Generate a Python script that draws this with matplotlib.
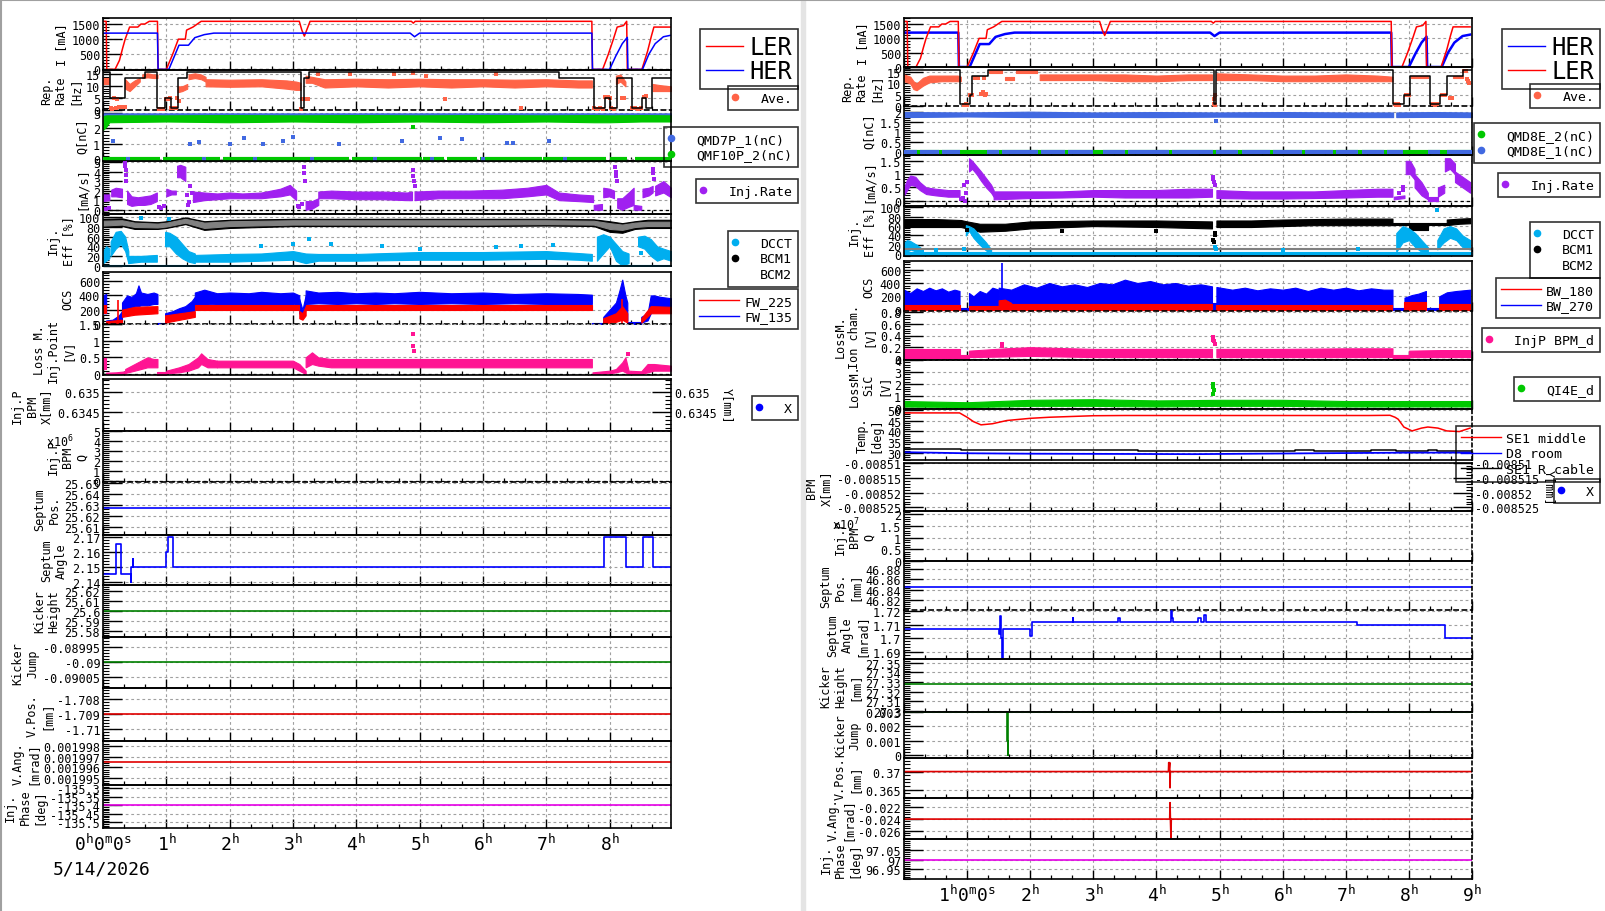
import matplotlib
matplotlib.use("Agg")
import matplotlib.pyplot as plt
from matplotlib.lines import Line2D
from matplotlib.patches import Rectangle
from matplotlib.ticker import AutoMinorLocator, MultipleLocator
from matplotlib.transforms import Bbox, TransformedBbox

plt.rcParams["font.family"] = ["DejaVu Sans Mono", "DejaVu Sans"]
plt.rcParams["mathtext.fontset"] = "custom"
for _k in ("rm", "it", "bf", "sf"):
    plt.rcParams["mathtext." + _k] = "DejaVu Sans Mono"

W, H = 1606, 912

RED, BLUE = "#ff0000", "#0000ff"
TOMATO = "#ff6347"
ROYAL = "#4169e1"
GREEN = "#00c800"
PURPLE = "#a020f0"
SKY = "#00aeef"
GRAY = "#808080"
PINK = "#ff1493"
DKGREEN = "#008000"
VRED = "#e00000"
MAG = "#e600e6"

# ---------------- data (hours since 0:00) ----------------
ler_t = [0.0, 0.05, 0.06, 0.19, 0.26, 0.31, 0.35, 0.42, 0.55, 0.6, 0.66, 0.73, 0.86, 0.87,
         1.0, 1.1, 1.19, 1.3, 1.32, 1.42, 1.55, 3.1, 3.14, 3.18, 3.27, 4.87, 4.9, 4.93,
         7.72, 7.73, 7.89, 7.98, 8.06, 8.12, 8.22, 8.27, 8.28, 8.51, 8.6, 8.66, 8.7, 8.97]
ler_v = [1590, 1590, 0, 0, 300, 700, 1000, 1400, 1400, 1500, 1500, 1590, 1590, 0,
         0, 500, 1000, 1000, 1300, 1400, 1590, 1590, 1300, 1100, 1590, 1590, 1530, 1590,
         1590, 0, 0, 500, 1000, 1400, 1450, 1590, 0, 0, 600, 1100, 1400, 1400]
her_t = [0.0, 0.86, 0.87, 1.04, 1.12, 1.2, 1.35, 1.45, 1.6, 1.75, 4.85, 4.92, 5.0, 7.72, 7.73,
         8.0, 8.1, 8.2, 8.28, 8.29, 8.52, 8.62, 8.72, 8.85, 8.97]
her_v = [1200, 1200, 0, 0, 400, 800, 800, 1050, 1150, 1200, 1200, 1080, 1200, 1200, 0,
         0, 450, 850, 1060, 0, 0, 500, 850, 1080, 1130]

# rep. rate, left
lrep_t = [0.0, 0.11, 0.35, 0.66, 0.86, 0.98, 1.07, 1.19, 1.33, 3.12, 3.18, 3.26, 7.2, 7.75, 7.92,
          8.0, 8.11, 8.35, 8.51, 8.58, 8.67, 8.97]
lrep_v = [16, 5, 13.5, 16, 0.8, 5, 0.8, 13.5, 16, 0.8, 13.5, 16, 13.5, 0.8, 5,
          0.8, 13.5, 0.8, 5, 0.8, 13.5, 13.5]
ave_l_segs = [
    ([0.0, 0.1], [11, 11], [13.5, 13.5]),
    ([0.35, 0.42, 0.5, 0.58], [9, 8, 10, 12], [13, 11, 12.5, 13.5]),
    ([0.62, 0.7, 0.8, 0.86], [13.5, 13.8, 13.5, 13.5], [15, 15.5, 15, 15]),
    ([1.18, 1.25, 1.33], [7.5, 8, 9], [10, 10, 11]),
    ([1.35, 1.45, 1.55, 1.62], [13, 13.5, 13, 12], [15, 15.5, 15, 14]),
    ([1.62, 2.0, 2.5, 2.9, 3.05, 3.12], [10, 9.8, 10, 9, 8.5, 8.5], [13, 12.8, 13, 12.5, 12, 11.5]),
    ([3.2, 3.3, 3.5, 4.0, 4.5, 5.0, 5.5, 6.0, 6.5, 7.0, 7.5, 7.72],
     [11.5, 11.5, 9.5, 10, 9.5, 10, 9.5, 10, 9.5, 10, 9.5, 9.5],
     [14.5, 14, 13, 13.2, 13, 13.2, 13, 13, 12.8, 13, 12.5, 12.5]),
    ([8.1, 8.17, 8.25], [11, 12, 10], [14.5, 15, 12]),
    ([8.68, 8.8, 8.97], [8, 8, 8], [11, 10.5, 10]),
]
ave_l_pt_t = [0.12, 0.15, 0.17, 0.2, 0.22, 0.25, 0.3, 0.34, 0.88, 0.9, 0.92, 0.95, 1.0, 1.03,
              1.06, 1.08, 1.12, 1.15, 1.17, 1.2, 3.13, 3.15, 3.17, 3.2, 3.23, 3.4, 3.9, 4.6,
              4.9, 5.1, 5.4, 6.2, 6.6, 7.76, 7.8, 7.85, 7.9, 7.93, 7.97, 8.0, 8.03, 8.07,
              8.2, 8.22, 8.35, 8.4, 8.45, 8.5, 8.55, 8.58]
ave_l_pt_v = [1, 0.5, 5, 1, 4.5, 1.2, 1.2, 1.2, 0.3, 0.5, 0.3, 0.6, 4.8, 4.8,
              5, 1, 1, 1, 5, 4, 0.5, 4.6, 4.6, 4.8, 4.6, 15, 15, 15,
              15.5, 14.5, 4.5, 15, 0.8, 1, 0.5, 0.8, 0.5, 5.5, 5.5, 5, 0.8, 0.5,
              5, 5, 0.8, 0.8, 0.5, 0.8, 5.5, 6]

# bunch charge, left
q_blue_l = [([0.0, 2.0, 4.0, 6.0, 8.97], [2.82, 2.84, 2.82, 2.84, 2.82], [2.98, 2.98, 2.98, 2.98, 2.98])]
q_green_l = [([0.0, 0.05, 0.1, 1.0, 2.0, 3.0, 4.0, 5.0, 6.0, 7.0, 7.75, 8.0, 8.5, 8.97],
              [1.9, 2.1, 2.4, 2.45, 2.4, 2.45, 2.4, 2.45, 2.4, 2.45, 2.4, 2.4, 2.45, 2.45],
              [2.8, 2.85, 2.85, 2.85, 2.87, 2.85, 2.87, 2.85, 2.87, 2.85, 2.87, 2.85, 2.87, 2.85])]
q0_start_l = [0.0, 0.95, 1.9, 3.93, 5.06, 5.43, 5.96, 6.95, 8.0, 8.4]
q0_stop_l = [0.9, 1.85, 3.88, 5.03, 5.38, 5.9, 6.93, 7.95, 8.27, 8.97]
q_out_t = [0.16, 1.37, 1.51, 2.0, 2.22, 2.52, 2.85, 3.0, 3.72, 4.72, 5.32, 5.67, 6.38, 6.47, 7.05,
           0.4, 1.6, 2.4, 3.3, 4.3, 5.2, 6.0, 7.3]
q_out_v = [1.2, 0.95, 1.1, 0.95, 1.35, 0.95, 1.2, 1.45, 1.0, 1.2, 1.35, 1.3, 1.05, 1.05, 1.2,
           0, 0, 0, 0, 0, 0, 0, 0]

# injection rate, left
rate_l_segs = [
    ([0.0, 0.1], [0.9, 1.0], [1.6, 1.6]),
    ([0.13, 0.2, 0.3], [1.4, 1.4, 1.3], [2.1, 2.3, 2.2]),
    ([0.38, 0.45, 0.55, 0.65, 0.75, 0.85], [0.6, 0.4, 0.5, 0.5, 0.6, 0.9], [2.0, 1.4, 1.3, 1.4, 1.5, 1.8]),
    ([1.0, 1.08, 1.15], [1.4, 1.6, 1.6], [2.2, 2.0, 2.0]),
    ([1.17, 1.22, 1.3], [3.4, 3.4, 3.0], [4.6, 4.7, 4.5]),
    ([1.42, 1.6, 1.8, 2.0, 2.2, 2.5, 2.8, 2.95, 3.05],
     [0.8, 1.0, 1.1, 1.2, 1.2, 1.2, 1.4, 1.6, 1.0], [1.9, 1.8, 1.7, 1.8, 1.7, 1.8, 2.2, 2.6, 2.0]),
    ([3.2, 3.3, 3.4], [0.0, 0.1, 0.5], [0.9, 0.9, 1.2]),
    ([3.4, 3.6, 4.0, 4.4, 4.8, 4.88], [1.2, 1.2, 1.1, 1.1, 1.0, 1.0], [1.9, 2.0, 1.9, 1.9, 1.8, 1.9]),
    ([4.92, 5.3, 5.8, 6.3, 6.7, 7.0, 7.2, 7.5, 7.74],
     [1.0, 1.2, 1.2, 1.2, 1.4, 1.6, 1.0, 0.9, 0.8], [1.9, 2.0, 2.0, 2.1, 2.3, 2.6, 1.8, 1.6, 1.5]),
    ([7.75, 7.88], [0.0, 0.0], [0.5, 0.6]),
    ([7.9, 8.0, 8.07], [1.3, 1.4, 1.2], [2.3, 2.2, 2.0]),
    ([8.12, 8.2, 8.3, 8.38], [0.2, 0.0, 0.3, 0.5], [1.2, 1.2, 1.8, 2.3]),
    ([8.38, 8.5], [0.0, 0.0], [0.5, 0.4]),
    ([8.52, 8.62, 8.68], [1.3, 1.5, 1.8], [2.2, 2.3, 2.5]),
    ([8.72, 8.85, 8.97], [1.5, 1.8, 1.3], [2.5, 3.0, 2.3]),
]
rate_l_pt_t = [0.05, 0.1, 0.35, 0.35, 0.36, 0.36, 0.37, 0.88, 0.92, 0.97, 1.33, 1.35, 1.36, 1.38,
               1.4, 3.08, 3.1, 3.14, 3.17, 3.18, 3.19, 4.9, 4.9, 4.91, 4.92, 8.09, 8.1, 8.1,
               8.11, 8.69, 8.69, 8.7]
rate_l_pt_v = [0.1, 0.2, 5.0, 4.6, 4.2, 3.6, 3.0, 0.3, 0.2, 0.4, 1.5, 0.5, 0.8, 2.5,
               1.8, 0.4, 0.3, 0.6, 4.5, 3.8, 3.0, 4.2, 3.5, 3.0, 2.5, 4.5, 4.0, 3.5,
               3.0, 4.3, 3.8, 3.2]

# injection efficiency, left
eff_t_l = [0.0, 0.3, 0.5, 0.86, 1.0, 1.3, 1.6, 2.0, 3.0, 4.0, 5.0, 6.0, 7.0, 7.75, 8.0, 8.2, 8.4, 8.6, 8.97]
eff_blk_lo_l = [80, 82, 76, 76, 78, 86, 74, 78, 82, 82, 82, 82, 83, 82, 70, 68, 76, 78, 78]
eff_blk_hi_l = [97, 98, 92, 90, 92, 100, 92, 95, 97, 97, 97, 97, 97, 96, 92, 88, 92, 95, 95]
eff_gry_lo_l = [83, 85, 80, 79, 81, 89, 78, 82, 85, 85, 85, 85, 86, 85, 76, 74, 80, 82, 82]
eff_gry_hi_l = [93, 94, 89, 87, 89, 97, 89, 92, 94, 94, 94, 94, 94, 93, 88, 85, 89, 91, 91]
dcct_l_segs = [
    ([0.0, 8.97], [-1, -1], [2, 2]),
    ([0.0, 0.05, 0.1], [5, 10, 15], [30, 40, 35]),
    ([0.12, 0.2, 0.28, 0.35, 0.4], [20, 35, 45, 30, 5], [50, 70, 72, 60, 30]),
    ([0.4, 0.6, 0.85], [5, 8, 8], [20, 20, 22]),
    ([0.98, 1.05, 1.15, 1.25, 1.35, 1.45], [40, 40, 25, 15, 8, 5], [70, 68, 60, 45, 30, 25]),
    ([1.45, 2.0, 2.5, 3.0, 3.2, 3.4, 4.0, 5.0, 6.0, 7.0, 7.5, 7.72],
     [8, 8, 10, 12, 5, 10, 10, 12, 12, 14, 12, 10], [22, 24, 25, 30, 25, 24, 24, 28, 28, 30, 26, 24]),
    ([7.8, 7.9, 8.0, 8.1, 8.2, 8.3], [10, 25, 40, 10, 0, 5], [60, 65, 60, 45, 30, 25]),
    ([8.45, 8.55, 8.65, 8.75, 8.85, 8.97], [40, 35, 20, 10, 15, 10], [60, 62, 55, 40, 35, 30]),
]
dcct_l_pt_t = [0.6, 1.05, 2.5, 3.0, 3.25, 3.6, 4.4, 5.0, 6.2, 6.6, 7.1, 8.5]
dcct_l_pt_v = [98, 97, 40, 45, 55, 45, 40, 35, 38, 40, 42, 25]

# OCS, left
ocs_blue_l = [
    ([0.0, 0.05], [150, 150], [400, 420]),
    ([0.05, 0.15, 0.25, 0.3], [0, 0, 20, 50], [50, 60, 120, 180]),
    ([0.3, 0.38, 0.45, 0.52, 0.56, 0.6, 0.7, 0.8, 0.86],
     [150, 200, 230, 250, 250, 260, 260, 280, 280], [300, 400, 380, 430, 540, 440, 420, 440, 420]),
    ([0.86, 0.98], [0, 0], [15, 15]),
    ([0.98, 1.1, 1.2, 1.3, 1.4, 1.45], [30, 50, 80, 100, 150, 200], [150, 180, 220, 250, 320, 380]),
    ([1.45, 1.6, 1.8, 2.0, 2.3, 2.5, 2.8, 3.0, 3.1],
     [260, 270, 280, 280, 280, 280, 280, 280, 250], [440, 480, 430, 440, 430, 450, 430, 440, 400]),
    ([3.1, 3.15, 3.2], [150, 100, 200], [350, 200, 400]),
    ([3.2, 3.4, 3.7, 4.0, 4.3, 4.6, 5.0, 5.5, 6.0, 6.5, 7.0, 7.5, 7.72],
     [280, 290, 280, 290, 280, 290, 280, 290, 280, 290, 280, 280, 280],
     [470, 440, 450, 430, 440, 430, 450, 430, 440, 420, 430, 420, 410]),
    ([7.73, 7.9], [0, 0], [20, 20]),
    ([7.9, 8.0, 8.1, 8.15, 8.2, 8.25, 8.28], [20, 80, 100, 200, 150, 100, 50], [100, 200, 300, 450, 620, 400, 300]),
    ([8.28, 8.5], [0, 0], [30, 30]),
    ([8.5, 8.6, 8.65, 8.7, 8.8, 8.97], [20, 50, 150, 200, 200, 200], [100, 150, 400, 400, 380, 360]),
]
ocs_red_l = [
    ([0.0, 0.05], [150, 150], [260, 260]),
    ([0.05, 0.3], [0, 0], [40, 60]),
    ([0.3, 0.5, 0.86], [100, 130, 150], [200, 240, 250]),
    ([0.98, 1.45], [20, 100], [120, 180]),
    ([1.45, 3.1], [190, 190], [260, 260]),
    ([3.1, 3.15, 3.2], [80, 60, 120], [180, 150, 250]),
    ([3.2, 7.72], [190, 190], [260, 260]),
    ([7.9, 8.1, 8.2, 8.28], [10, 30, 60, 20], [80, 150, 250, 150]),
    ([8.5, 8.65, 8.97], [20, 150, 150], [80, 250, 240]),
]
ocs_red_spk_t = [0.24, 8.2]
ocs_red_spk_v = [330, 350]

# loss monitor, left
loss_l_segs = [
    ([0.0, 0.05], [0.15, 0.15], [0.48, 0.48]),
    ([0.05, 0.2, 0.35], [0.0, 0.0, 0.02], [0.04, 0.05, 0.08]),
    ([0.35, 0.5, 0.6, 0.7, 0.8, 0.86], [0.03, 0.1, 0.15, 0.2, 0.2, 0.2], [0.15, 0.3, 0.4, 0.5, 0.45, 0.45]),
    ([0.86, 1.0], [-0.02, -0.02], [0.05, 0.05]),
    ([1.0, 1.2, 1.35, 1.5, 1.55, 1.65, 1.8], [0.02, 0.05, 0.1, 0.2, 0.3, 0.2, 0.2], [0.1, 0.2, 0.3, 0.5, 0.62, 0.45, 0.4]),
    ([1.8, 2.5, 3.0, 3.1, 3.2], [0.2, 0.2, 0.2, 0.1, 0.0], [0.4, 0.4, 0.4, 0.3, 0.1]),
    ([3.2, 3.3, 3.4, 3.6, 4.0, 5.0, 6.0, 7.0, 7.72],
     [0.2, 0.3, 0.25, 0.2, 0.2, 0.2, 0.2, 0.2, 0.2], [0.5, 0.65, 0.5, 0.45, 0.45, 0.45, 0.45, 0.45, 0.45]),
    ([7.73, 8.0, 8.1, 8.2, 8.25, 8.3, 8.5, 8.6, 8.7, 8.97],
     [0.0, 0.02, 0.05, 0.1, 0.05, 0.0, 0.0, 0.05, 0.1, 0.1], [0.05, 0.1, 0.15, 0.35, 0.5, 0.1, 0.08, 0.3, 0.3, 0.25]),
]
loss_l_pt_t = [4.9, 4.9, 4.91, 8.29]
loss_l_pt_v = [1.2, 0.85, 0.7, 0.6]

# septum / kicker / injection params, left
lsa_t = [0.0, 0.2, 0.29, 0.44, 0.45, 0.47, 0.48, 1.0, 1.02, 1.11, 7.91, 8.26, 8.53, 8.69, 8.97]
lsa_v = [2.145, 2.165, 2.145, 2.14, 2.15, 2.155, 2.15, 2.16, 2.17, 2.15, 2.17, 2.15, 2.17, 2.15, 2.15]
span_l = [0.0, 8.97]
sep_pos_l = [25.627, 25.627]
kick_h_l = [25.6, 25.6]
kick_j_l = [-0.09, -0.09]
vpos_l = [-1.709, -1.709]
vang_l = [0.0019965, 0.0019965]
phase_l = [-135.4, -135.4]

# ---------------- right column ----------------
rrep_t = [0.0, 0.89, 1.04, 1.07, 1.33, 4.91, 4.95, 7.75, 7.93, 8.02, 8.33, 8.5, 8.6, 8.85, 9.0]
rrep_v = [16, 0.8, 5, 13.5, 16, 0.8, 16, 0.8, 5, 13.5, 0.8, 5, 13.5, 16, 16]
ave_r_segs = [
    ([0.0, 0.1, 0.15, 0.2, 0.3, 0.4, 0.6, 0.85, 0.9], [11, 10, 7.5, 7, 9, 10.5, 11, 11, 11],
     [14, 13, 11, 10, 12.5, 13.5, 13.5, 13.5, 13]),
    ([1.35, 1.55], [14.8, 14.8], [16, 16]),
    ([1.6, 1.75], [11.5, 11.5], [13, 13]),
    ([1.78, 2.1], [14.8, 14.8], [16, 16]),
    ([2.15, 2.5, 3.0, 3.5, 4.0, 4.5, 4.88], [11.5, 11.5, 11.5, 11, 11, 11.5, 11.5], [14, 14, 14, 14, 13.5, 14, 14]),
    ([4.95, 5.5, 6.0, 6.5, 7.0, 7.5, 7.74], [11.5, 11.5, 11, 11, 11, 11, 11], [14.5, 14, 13.5, 13.5, 14, 13.5, 13]),
    ([8.03, 8.3], [12.5, 12.5], [13.5, 13.5]),
    ([8.7, 8.85], [12.5, 12.5], [13.5, 13.5]),
]
ave_r_pt_t = [0.95, 0.98, 1.0, 1.05, 1.08, 1.13, 1.17, 1.22, 1.25, 1.27, 1.28, 1.3, 4.91, 4.91,
              4.92, 4.93, 7.78, 7.8, 7.83, 7.85, 7.95, 7.98, 8.0, 8.38, 8.42, 8.45, 8.52, 8.55,
              8.58, 8.65, 8.68, 8.88, 8.9, 8.92, 8.94, 8.96]
ave_r_pt_v = [0.5, 0.8, 0.5, 5, 5, 12.5, 12.5, 5.5, 6, 12.5, 5, 5.5, 3, 1,
              5, 0.5, 0.8, 0.5, 0.8, 0.6, 5, 5, 5, 0.8, 0.5, 0.8, 5, 5,
              5, 3.5, 3.5, 15.5, 15.5, 12, 11, 10]

q_blue_r = [([0.0, 1.0, 2.0, 3.0, 4.0, 5.0, 6.0, 7.0, 7.75],
             [1.75, 1.78, 1.75, 1.76, 1.75, 1.77, 1.76, 1.75, 1.75],
             [2.0, 1.98, 2.02, 1.98, 2.0, 1.98, 2.0, 1.98, 1.98]),
            ([7.8, 8.4, 9.0], [1.75, 1.76, 1.75], [1.98, 2.0, 1.98])]
q0_start_r = [0.0, 0.25, 0.6, 1.32, 1.55, 2.17, 2.6, 3.15, 3.55, 4.25, 4.95, 5.35, 5.85, 6.35, 6.85, 7.25, 7.65, 8.3, 8.6]
q0_stop_r = [0.2, 0.55, 0.88, 1.5, 2.12, 2.55, 3.0, 3.5, 4.2, 4.9, 5.3, 5.8, 6.3, 6.8, 7.2, 7.6, 7.9, 8.5, 9.0]
q_out_r_t = [4.95]
q_out_r_v = [1.55]

rate_r_segs = [
    ([0.0, 0.05, 0.1, 0.18, 0.25, 0.35, 0.5, 0.7, 0.88], [0.2, 0.4, 0.6, 0.55, 0.4, 0.25, 0.2, 0.15, 0.15],
     [0.5, 0.8, 0.95, 0.9, 0.7, 0.5, 0.45, 0.4, 0.4]),
    ([1.03, 1.08, 1.15, 1.22, 1.3, 1.38, 1.42], [1.1, 1.2, 1.0, 0.75, 0.5, 0.3, 0.15], [1.6, 1.5, 1.3, 1.1, 0.85, 0.6, 0.4]),
    ([1.42, 2.0, 2.5, 3.0, 3.5, 4.0, 4.5, 4.88], [0.05, 0.1, 0.12, 0.15, 0.12, 0.12, 0.12, 0.15],
     [0.35, 0.35, 0.35, 0.4, 0.4, 0.4, 0.45, 0.45]),
    ([4.95, 5.5, 6.0, 6.5, 7.0, 7.5, 7.74], [0.1, 0.08, 0.08, 0.1, 0.12, 0.15, 0.15], [0.4, 0.35, 0.35, 0.35, 0.4, 0.45, 0.45]),
    ([7.76, 7.93], [0.05, 0.1], [0.15, 0.2]),
    ([7.95, 8.02, 8.09], [1.0, 1.0, 0.8], [1.5, 1.5, 1.2]),
    ([8.09, 8.2, 8.3], [0.5, 0.2, 0.05], [1.0, 0.7, 0.3]),
    ([8.3, 8.46], [0.0, 0.0], [0.15, 0.15]),
    ([8.46, 8.56], [0.15, 0.3], [0.5, 0.6]),
    ([8.57, 8.65, 8.73], [1.1, 1.2, 1.0], [1.6, 1.6, 1.4]),
    ([8.73, 8.85, 8.97], [0.7, 0.5, 0.3], [1.1, 0.9, 0.7]),
]
rate_r_pt_t = [0.9, 0.93, 0.95, 0.97, 0.98, 1.0, 4.9, 4.9, 4.91, 4.92, 7.85, 7.9, 7.9]
rate_r_pt_v = [0.05, 0.1, 0.6, 0.0, 0.3, 0.7, 0.9, 0.8, 0.7, 0.6, 0.3, 0.4, 0.5]

eff_r_blk_segs = [
    ([0.0, 0.5, 0.9, 1.0, 1.2, 1.6, 2.0, 3.0, 4.0, 4.88], [58, 58, 58, 55, 48, 50, 55, 60, 58, 55],
     [75, 75, 73, 70, 65, 65, 70, 72, 72, 70]),
    ([4.95, 5.5, 6.0, 6.5, 7.0, 7.5, 7.74], [58, 58, 60, 62, 62, 62, 62], [72, 72, 74, 75, 76, 76, 76]),
    ([7.75, 8.0], [62, 62], [66, 66]),
    ([8.0, 8.3], [52, 52], [66, 66]),
    ([8.3, 8.6], [62, 62], [66, 66]),
    ([8.6, 8.8, 8.97], [62, 65, 66], [74, 76, 77]),
]
eff_r_blk_pt_t = [4.9, 4.91, 4.92, 4.93, 1.0, 2.5, 4.0]
eff_r_blk_pt_v = [30, 25, 40, 45, 52, 50, 50]
eff_r_gry = [([0.0, 9.0], [10.5, 10.5], [13.5, 13.5])]
eff_r_sky_segs = [
    ([0.0, 9.0], [-2, -2], [5, 5]),
    ([0.0, 0.05, 0.1, 0.2, 0.3], [5, 5, 10, 5, 0], [25, 30, 28, 20, 10]),
    ([0.98, 1.03, 1.1, 1.2, 1.3, 1.38], [40, 50, 35, 20, 8, 0], [62, 60, 55, 40, 25, 10]),
    ([7.8, 7.9, 8.0, 8.1, 8.2, 8.3], [5, 25, 30, 15, 5, 0], [45, 60, 55, 45, 30, 15]),
    ([8.45, 8.55, 8.65, 8.75, 8.85, 8.97], [10, 25, 35, 30, 15, 10], [30, 55, 60, 55, 40, 30]),
]
eff_r_sky_pt_t = [0.5, 0.95, 4.93, 4.95, 6.0, 7.2, 8.45]
eff_r_sky_pt_v = [8, 12, 15, 12, 8, 10, 94]

ocs_blue_r = [
    ([0.0, 0.1, 0.2, 0.3, 0.4, 0.5, 0.6, 0.7, 0.8, 0.88], [10, 10, 10, 10, 10, 10, 10, 10, 10, 10],
     [300, 250, 320, 280, 330, 290, 320, 270, 300, 280]),
    ([0.88, 1.03], [0, 0], [20, 20]),
    ([1.03, 1.1, 1.2, 1.3, 1.4, 1.5], [10, 10, 10, 10, 10, 10], [250, 200, 280, 240, 330, 300]),
    ([1.5, 1.7, 1.9, 2.1, 2.3, 2.5, 2.7, 2.9, 3.1, 3.3, 3.5, 3.7, 3.9, 4.1, 4.3, 4.5, 4.7, 4.88],
     [10, 10, 10, 10, 10, 10, 10, 10, 10, 10, 10, 10, 10, 10, 10, 10, 10, 10],
     [330, 300, 380, 330, 400, 350, 380, 340, 400, 380, 450, 400, 430, 380, 400, 360, 380, 350]),
    ([4.88, 4.95], [0, 0], [100, 100]),
    ([4.95, 5.2, 5.4, 5.6, 5.8, 6.0, 6.2, 6.4, 6.6, 6.8, 7.0, 7.2, 7.4, 7.6, 7.74],
     [10, 10, 10, 10, 10, 10, 10, 10, 10, 10, 10, 10, 10, 10, 10],
     [340, 300, 330, 290, 320, 300, 330, 280, 330, 300, 330, 290, 320, 300, 300]),
    ([7.75, 7.93], [0, 0], [30, 30]),
    ([7.93, 8.05, 8.15, 8.27], [10, 10, 10, 10], [180, 220, 240, 280]),
    ([8.27, 8.48], [0, 0], [30, 30]),
    ([8.48, 8.6, 8.75, 8.97], [10, 10, 10, 10], [200, 260, 280, 300]),
]
ocs_red_r = [
    ([0.0, 0.88], [0, 0], [70, 70]),
    ([1.03, 1.5], [0, 0], [60, 60]),
    ([1.5, 1.6, 1.7], [0, 0, 0], [140, 150, 100]),
    ([1.7, 4.88], [0, 0], [80, 80]),
    ([4.95, 7.74], [0, 0], [70, 70]),
    ([7.93, 8.27], [0, 0], [110, 110]),
    ([8.48, 8.97], [0, 0], [80, 80]),
]
ocs_blue_spk_t = [1.56]
ocs_blue_spk_v = [700]

ion_r_segs = [
    ([0.0, 0.88], [0.02, 0.02], [0.17, 0.17]),
    ([0.88, 1.03], [0.0, 0.0], [0.06, 0.06]),
    ([1.03, 1.6, 2.0, 3.0, 4.0, 4.88], [0.03, 0.04, 0.05, 0.03, 0.03, 0.03], [0.14, 0.18, 0.2, 0.17, 0.17, 0.17]),
    ([4.95, 6.0, 7.0, 7.74], [0.03, 0.03, 0.03, 0.03], [0.17, 0.17, 0.18, 0.18]),
    ([7.75, 8.0], [0.0, 0.0], [0.07, 0.07]),
    ([8.0, 8.5, 8.97], [0.03, 0.03, 0.03], [0.14, 0.15, 0.15]),
]
ion_r_pt_t = [4.9, 4.9, 4.91, 4.92, 1.56, 1.56]
ion_r_pt_v = [0.38, 0.33, 0.3, 0.25, 0.25, 0.22]

sic_r_segs = [([0.0, 1.0, 2.0, 3.0, 4.0, 5.0, 6.0, 7.0, 8.0, 9.0],
               [0.15, 0.1, 0.2, 0.2, 0.15, 0.2, 0.2, 0.15, 0.15, 0.15],
               [0.6, 0.5, 0.7, 0.75, 0.65, 0.7, 0.7, 0.6, 0.6, 0.6])]
sic_r_pt_t = [4.9, 4.9, 4.91, 4.9]
sic_r_pt_v = [2.0, 1.75, 1.5, 1.2]

temp_red_t = [0.0, 0.88, 1.0, 1.1, 1.22, 1.4, 1.63, 2.0, 2.3, 3.0, 3.5, 7.36, 7.7, 7.78, 7.83,
              7.92, 8.05, 8.2, 8.3, 8.46, 8.6, 8.8, 8.97]
temp_red_v = [48.5, 48.5, 46.5, 44.5, 43, 43.5, 45, 46, 46.5, 47.2, 47.3, 47.3, 47.4, 46.5, 45.6,
              42, 40.2, 41.5, 42, 41.5, 40.2, 39.9, 41.5]
temp_blk_t = [0.0, 0.9, 3.7, 6.2, 6.5, 7.4, 7.8, 8.3, 8.45, 9.0]
temp_blk_v = [31.9, 31.3, 30.9, 31.4, 30.9, 31.4, 30.9, 31.4, 30.9, 30.9]
temp_blu_t = [0.0, 1.0, 2.0, 4.6, 7.0, 8.0, 9.0]
temp_blu_v = [30.4, 29.9, 29.7, 29.5, 30.0, 30.2, 30.2]

span_r = [0.0, 9.0]
sep_pos_r = [46.846, 46.846]
rsa_t = [0.0, 1.50, 1.52, 1.535, 1.55, 1.57, 2.0, 2.03, 2.67, 2.68, 3.39, 3.42, 4.23, 4.25,
         4.27, 4.66, 4.71, 4.76, 4.79, 7.18, 8.58, 9.0]
rsa_v = [1.707, 1.703, 1.716, 1.700, 1.686, 1.707, 1.702, 1.712, 1.715, 1.712, 1.715, 1.712,
         1.720, 1.715, 1.712, 1.715, 1.712, 1.717, 1.712, 1.710, 1.700, 1.700]
kick_h_r = [27.3276, 27.3276]
kj_r_t = [0.0, 1.625, 1.64, 1.645, 9.0]
kj_r_v = [0.00298, 0.001, 0.0, 0.00298, 0.00298]
vpos_r_t = [0.0, 4.19, 4.195, 4.2, 4.21, 4.215, 4.22, 9.0]
vpos_r_v = [0.37, 0.37, 0.3725, 0.3705, 0.3725, 0.3655, 0.37, 0.37]
vang_r_t = [0.0, 4.21, 4.215, 4.22, 4.23, 4.235, 9.0]
vang_r_v = [-0.024, -0.024, -0.0212, -0.0235, -0.0272, -0.024, -0.024]
phase_r = [97.0, 97.0]

left_hours = list(range(9))
right_hours = list(range(10))
left_xlabels = ["$0^{h}0^{m}0^{s}$"] + ["$%d^{h}$" % h for h in left_hours[1:]]
right_xlabels = [""] + ["$1^{h}0^{m}0^{s}$"] + ["$%d^{h}$" % h for h in right_hours[2:]]
date_label = "5/14/2026"

# ---------------- layout (pixels) ----------------
LX = (103, 671)
RX = (904, 1472)
L_ROWS = [(19, 71), (71, 111), (111, 162), (162, 215), (215, 267), (273, 325), (325, 376),
          (380, 432), (432, 483), (483, 536), (536, 586), (586, 638), (638, 689), (689, 742),
          (742, 786), (786, 829)]
R_ROWS = [(19, 68), (68, 107), (107, 156), (156, 207), (207, 257), (262, 312), (312, 361),
          (361, 410), (410, 461), (464, 512), (512, 562), (562, 611), (611, 660), (660, 713),
          (713, 759), (759, 799), (799, 840), (840, 880)]

fig = plt.figure(figsize=(W / 100, H / 100), dpi=100)
fig.patch.set_facecolor("white")


def new_ax(cols, row):
    x0, x1 = cols
    y0, y1 = row
    ax = fig.add_axes([x0 / W, 1 - y1 / H, (x1 - x0) / W, (y1 - y0) / H])
    ax.set_facecolor("none")
    return ax


def style(ax, xlim, ylim, ticks, labels, ylabel, zero=False, hours=right_hours):
    ax.set_xlim(*xlim)
    ax.set_ylim(*ylim)
    ax.set_xticks(hours)
    ax.xaxis.set_minor_locator(MultipleLocator(1 / 3))
    ax.set_yticks(ticks, labels)
    ax.yaxis.set_minor_locator(AutoMinorLocator(5))
    ax.tick_params(axis="x", which="major", direction="in", length=6.5, width=1.0, labelbottom=False)
    ax.tick_params(axis="x", which="minor", direction="in", length=3, width=0.9)
    ax.tick_params(axis="y", which="major", direction="in", length=14, width=1.0, labelsize=8.5, pad=2)
    ax.tick_params(axis="y", which="minor", direction="in", length=4, width=0.8)
    ax.grid(True, which="major", color="#a0a0a0", ls=(0, (2.5, 2.5)), lw=0.8)
    ax.set_axisbelow(True)
    for sp in ax.spines.values():
        sp.set_linewidth(1.2)
    ax.set_ylabel(ylabel, fontsize=8.5, labelpad=3, linespacing=1.15)
    if zero:
        ax.axhline(0, color="black", lw=0.9, ls=(0, (2.5, 2.5)), zorder=1.2)


def right_axis(ax, ticks, labels):
    ax2 = ax.twinx()
    ax2.set_ylim(ax.get_ylim())
    ax2.set_yticks(ticks, labels)
    ax2.yaxis.set_minor_locator(AutoMinorLocator(5))
    ax2.tick_params(axis="y", which="major", direction="in", length=14, width=1.0, labelsize=8.5, pad=2)
    ax2.tick_params(axis="y", which="minor", direction="in", length=4, width=0.8)
    ax2.set_ylabel("Y[mm]", fontsize=8.5, rotation=270, va="bottom", labelpad=3)
    for sp in ax2.spines.values():
        sp.set_visible(False)
    return ax2


def bottom_labels(ax, hours, labels):
    ax.set_xticks(hours, labels)
    ax.tick_params(axis="x", which="major", labelbottom=True, labelsize=13, pad=3)


def bands(ax, segs, color, z=2):
    for t, lo, hi in segs:
        ax.fill_between(t, lo, hi, color=color, lw=0.8, zorder=z)


def dots(ax, t, v, color, ms=3.5):
    ax.plot(t, v, ls="none", marker="s", ms=ms, mew=0, color=color, zorder=3)


def zero_runs(ax, starts, stops, color, z=3):
    ax.hlines([0] * len(starts), starts, stops, color=color, lw=3, zorder=z)


def mk(color):
    return Line2D([], [], ls="none", marker="o", ms=4.5, color=color)


def ln(color):
    return Line2D([], [], color=color, lw=1.0)


def key(ax, handles, labels, right, top, size=9.5, hl=0.2, tp=1.8, ls=0.2, bp=0.43):
    lg = ax.legend(handles, labels, loc="upper right", bbox_to_anchor=(right / W, 1 - top / H),
                   bbox_transform=fig.transFigure, borderaxespad=0, frameon=True, fancybox=False,
                   edgecolor="black", facecolor="none", fontsize=size, handlelength=hl,
                   handletextpad=tp, labelspacing=ls, borderpad=bp)
    lg.get_frame().set_linewidth(1.2)
    return lg


# ================= LEFT COLUMN =================
xl = (0.0, 8.97)
la = [new_ax(LX, r) for r in L_ROWS]


def lstyle(ax, *args, **kw):
    style(ax, xl, *args, hours=left_hours, **kw)


a = la[0]
lstyle(a, (-20, 1700), [0, 500, 1000, 1500], ["0", "500", "1000", "1500"], "I [mA]", zero=True)
a.plot(ler_t, ler_v, color=RED, lw=1.1)
a.plot(her_t, her_v, color=BLUE, lw=1.1)
key(a, [ln(RED), ln(BLUE)], ["LER", "HER"], 798, 30, size=17, hl=1.6, tp=0.25, ls=0.0, bp=0.25)

a = la[1]
lstyle(a, (0, 16.9), [0, 5, 10, 15], ["0", "5", "10", "15"], "Rep.\nRate\n[Hz]", zero=True)
bands(a, ave_l_segs, TOMATO)
dots(a, ave_l_pt_t, ave_l_pt_v, TOMATO)
a.plot(lrep_t, lrep_v, color="black", lw=1.1, drawstyle="steps-post", zorder=4)
a.spines["bottom"].set_linestyle((0, (2.5, 2.5)))
key(a, [mk(TOMATO)], ["Ave."], 798, 87)

a = la[2]
lstyle(a, (-0.13, 3.2), [0, 1, 2, 3], ["0", "1", "2", "3"], "Q[nC]")
a.spines["top"].set_visible(False)
bands(a, q_blue_l, ROYAL)
bands(a, q_green_l, GREEN)
zero_runs(a, q0_start_l, q0_stop_l, GREEN)
dots(a, q_out_t, q_out_v, ROYAL)
dots(a, [4.89], [2.07], GREEN)
key(a, [mk(ROYAL), mk(GREEN)], ["QMD7P_1(nC)", "QMF10P_2(nC)"], 798, 128)

a = la[3]
lstyle(a, (-0.45, 5.1), [0, 1, 2, 3, 4, 5], ["0", "1", "2", "3", "4", "5"], "[mA/s]", zero=True)
bands(a, rate_l_segs, PURPLE)
dots(a, rate_l_pt_t, rate_l_pt_v, PURPLE)
key(a, [mk(PURPLE)], ["Inj.Rate"], 798, 180)

a = la[4]
lstyle(a, (-1, 107), [0, 20, 40, 60, 80, 100], ["0", "20", "40", "60", "80", "100"], "Inj.\nEff [%]")
a.fill_between(eff_t_l, eff_blk_lo_l, eff_blk_hi_l, color="black", lw=0.8, zorder=2)
a.fill_between(eff_t_l, eff_gry_lo_l, eff_gry_hi_l, color=GRAY, lw=0.8, zorder=2.1)
bands(a, dcct_l_segs, SKY, z=2.2)
dots(a, dcct_l_pt_t, dcct_l_pt_v, SKY)
key(a, [mk(SKY), mk("black"), mk("none")], ["DCCT", "BCM1", "BCM2"], 798, 232)

a = la[5]
lstyle(a, (0, 727), [0, 200, 400, 600], ["0", "200", "400", "600"], "OCS", zero=True)
bands(a, ocs_blue_l, BLUE)
bands(a, ocs_red_l, RED, z=2.1)
a.vlines(ocs_red_spk_t, 0, ocs_red_spk_v, color=RED, lw=1.2, zorder=2.2)
a.spines["bottom"].set_linestyle((0, (2.5, 2.5)))
key(a, [ln(RED), ln(BLUE)], ["FW_225", "FW_135"], 798, 290, hl=3.0, tp=0.4)

a = la[6]
lstyle(a, (-0.03, 1.5), [0, 0.5, 1, 1.5], ["0", "0.5", "1", "1.5"], "Loss M.\nInj.Point\n[V]", zero=True)
a.spines["top"].set_visible(False)
bands(a, loss_l_segs, PINK)
dots(a, loss_l_pt_t, loss_l_pt_v, PINK)

a = la[7]
bpm_ticks_l = [0.6345, 0.635]
bpm_labels_l = ["0.6345", "0.635"]
lstyle(a, (0.63403, 0.63533), bpm_ticks_l, bpm_labels_l, "Inj.P\nBPM\nX[mm]")
right_axis(a, bpm_ticks_l, bpm_labels_l)
key(a, [mk(BLUE)], ["X"], 798, 397)

a = la[8]
lstyle(a, (-0.1, 5.05), [0, 1, 2, 3, 4, 5], ["0", "1", "2", "3", "4", "5"], "Inj.P\nBPM\nQ", zero=True)
a.spines["bottom"].set_linestyle((0, (2.5, 2.5)))
fig.text(46 / W, 1 - 447 / H, "x10$^{6}$", fontsize=8.5, ha="left", va="baseline")

a = la[9]
lstyle(a, (25.603, 25.6505), [25.61, 25.62, 25.63, 25.64, 25.65],
       ["25.61", "25.62", "25.63", "25.64", "25.65"], "Septum\nPos.")
a.spines["top"].set_visible(False)
a.plot(span_l, sep_pos_l, color=BLUE, lw=1.2)

a = la[10]
lstyle(a, (2.1378, 2.1713), [2.14, 2.15, 2.16, 2.17], ["2.14", "2.15", "2.16", "2.17"], "Septum\nAngle")
a.plot(lsa_t, lsa_v, color=BLUE, lw=1.2, drawstyle="steps-post")

a = la[11]
lstyle(a, (25.5737, 25.6263), [25.58, 25.59, 25.6, 25.61, 25.62],
       ["25.58", "25.59", "25.6", "25.61", "25.62"], "Kicker\nHeight")
a.plot(span_l, kick_h_l, color=DKGREEN, lw=1.2)

a = la[12]
lstyle(a, (-0.0900857, -0.0899157), [-0.09005, -0.09, -0.08995],
       ["-0.09005", "-0.09", "-0.08995"], "Kicker\nJump")
a.plot(span_l, kick_j_l, color=DKGREEN, lw=1.2)

a = la[13]
lstyle(a, (-1.7108, -1.70727), [-1.71, -1.709, -1.708], ["-1.71", "-1.709", "-1.708"], "V.Pos.\n[mm]")
a.plot(span_l, vpos_l, color=VRED, lw=1.2)

a = la[14]
lstyle(a, (0.00199439, 0.00199843), [0.001995, 0.001996, 0.001997, 0.001998],
       ["0.001995", "0.001996", "0.001997", "0.001998"], "V.Ang.\n[mrad]")
a.plot(span_l, vang_l, color=VRED, lw=1.2)

a = la[15]
lstyle(a, (-135.533, -135.28), [-135.5, -135.45, -135.4, -135.35, -135.3],
       ["-135.5", "-135.45", "-135.4", "-135.35", "-135.3"], "Inj.\nPhase\n[deg]")
a.plot(span_l, phase_l, color=MAG, lw=1.2)
bottom_labels(a, left_hours, left_xlabels)
fig.text(102 / W, 1 - 870 / H, date_label, fontsize=13, ha="center", va="center")

# ================= RIGHT COLUMN =================
xr = (0.02, 9.0)
ra = [new_ax(RX, r) for r in R_ROWS]

a = ra[0]
style(a, xr, (0, 1710), [0, 500, 1000, 1500], ["0", "500", "1000", "1500"], "I [mA]", zero=True)
a.plot(her_t, her_v, color=BLUE, lw=1.8)
a.plot(ler_t, ler_v, color=RED, lw=1.1)
key(a, [ln(BLUE), ln(RED)], ["HER", "LER"], 1600, 30, size=17, hl=1.6, tp=0.25, ls=0.0, bp=0.25)

a = ra[1]
style(a, xr, (0, 17.3), [0, 5, 10, 15], ["0", "5", "10", "15"], "Rep.\nRate\n[Hz]", zero=True)
bands(a, ave_r_segs, TOMATO)
dots(a, ave_r_pt_t, ave_r_pt_v, TOMATO)
a.plot(rrep_t, rrep_v, color="black", lw=1.1, drawstyle="steps-post", zorder=4)
a.spines["bottom"].set_linestyle((0, (2.5, 2.5)))
key(a, [mk(TOMATO)], ["Ave."], 1600, 85)

a = ra[2]
style(a, xr, (-0.13, 2.3), [0, 0.5, 1, 1.5, 2], ["0", "0.5", "1", "1.5", "2"], "Q[nC]")
a.spines["top"].set_visible(False)
bands(a, q_blue_r, ROYAL)
zero_runs(a, [0.0], [9.0], GREEN)
zero_runs(a, q0_start_r, q0_stop_r, ROYAL, z=3.1)
dots(a, q_out_r_t, q_out_r_v, ROYAL)
key(a, [mk(GREEN), mk(ROYAL)], ["QMD8E_2(nC)", "QMD8E_1(nC)"], 1600, 124)

a = ra[3]
style(a, xr, (-0.2, 1.72), [0, 0.5, 1, 1.5], ["0", "0.5", "1", "1.5"], "[mA/s]", zero=True)
bands(a, rate_r_segs, PURPLE)
dots(a, rate_r_pt_t, rate_r_pt_v, PURPLE)
key(a, [mk(PURPLE)], ["Inj.Rate"], 1600, 174)

a = ra[4]
style(a, xr, (-4, 103), [0, 20, 40, 60, 80, 100], ["0", "20", "40", "60", "80", "100"], "Inj.\nEff [%]")
bands(a, eff_r_blk_segs, "black")
dots(a, eff_r_blk_pt_t, eff_r_blk_pt_v, "black")
bands(a, eff_r_sky_segs, SKY, z=2.1)
dots(a, eff_r_sky_pt_t, eff_r_sky_pt_v, SKY)
bands(a, eff_r_gry, GRAY, z=2.2)
key(a, [mk(SKY), mk("black"), mk("none")], ["DCCT", "BCM1", "BCM2"], 1600, 223)

a = ra[5]
style(a, xr, (-20, 730), [0, 200, 400, 600], ["0", "200", "400", "600"], "OCS", zero=True)
bands(a, ocs_blue_r, BLUE)
a.vlines(ocs_blue_spk_t, 0, ocs_blue_spk_v, color=BLUE, lw=1.2, zorder=2)
bands(a, ocs_red_r, RED, z=2.1)
a.spines["bottom"].set_linestyle((0, (2.5, 2.5)))
key(a, [ln(RED), ln(BLUE)], ["BW_180", "BW_270"], 1600, 279, hl=3.0, tp=0.4)

a = ra[6]
style(a, xr, (-0.02, 0.82), [0, 0.2, 0.4, 0.6, 0.8], ["0", "0.2", "0.4", "0.6", "0.8"],
      "LossM.\nIon cham.\n[V]", zero=True)
a.spines["top"].set_visible(False)
bands(a, ion_r_segs, PINK)
dots(a, ion_r_pt_t, ion_r_pt_v, PINK)
key(a, [mk(PINK)], ["InjP BPM_d"], 1600, 329)

a = ra[7]
style(a, xr, (-0.06, 4.0), [0, 1, 2, 3, 4], ["0", "1", "2", "3", "4"], "LossM.\nSiC\n[V]", zero=True)
bands(a, sic_r_segs, GREEN)
dots(a, sic_r_pt_t, sic_r_pt_v, GREEN)
key(a, [mk(GREEN)], ["QI4E_d"], 1600, 378)

a = ra[8]
style(a, xr, (26.8, 50.3), [30, 35, 40, 45, 50], ["30", "35", "40", "45", "50"], "Temp.\n[deg]")
a.plot(temp_red_t, temp_red_v, color=RED, lw=1.1)
a.plot(temp_blk_t, temp_blk_v, color="black", lw=1.1, drawstyle="steps-post")
a.plot(temp_blu_t, temp_blu_v, color=BLUE, lw=1.3)
key(a, [ln(RED), ln(BLUE), ln("black")], ["SE1 middle", "D8 room", "SE1 R cable"], 1600, 427, hl=3.0, tp=0.4)

a = ra[9]
bpm_ticks_r = [-0.008525, -0.00852, -0.008515, -0.00851]
bpm_labels_r = ["-0.008525", "-0.00852", "-0.008515", "-0.00851"]
style(a, xr, (-0.0085262, -0.00851), bpm_ticks_r, bpm_labels_r, "Inj.P\nBPM\nX[mm]")
a.yaxis.label.set_clip_box(TransformedBbox(Bbox([[806 / W, 0], [1, 1]]), fig.transFigure))
a.yaxis.label.set_clip_on(True)
right_axis(a, bpm_ticks_r, bpm_labels_r)
key(a, [mk(BLUE)], ["X"], 1600, 480)

a = ra[10]
style(a, xr, (-0.01, 2.15), [0, 0.5, 1, 1.5, 2], ["0", "0.5", "1", "1.5", "2"], "Inj.P\nBPM\nQ", zero=True)
fig.text(832 / W, 1 - 530 / H, "x10$^{7}$", fontsize=8.5, ha="left", va="baseline")

a = ra[11]
style(a, xr, (46.801, 46.895), [46.82, 46.84, 46.86, 46.88], ["46.82", "46.84", "46.86", "46.88"],
      "Septum\nPos.\n[mm]")
a.plot(span_r, sep_pos_r, color=BLUE, lw=1.2)
a.spines["bottom"].set_linestyle((0, (2.5, 2.5)))

a = ra[12]
style(a, xr, (1.6852, 1.7205), [1.69, 1.7, 1.71, 1.72], ["1.69", "1.7", "1.71", "1.72"], "Septum\nAngle\n[mrad]")
a.spines["top"].set_visible(False)
a.plot(rsa_t, rsa_v, color=BLUE, lw=1.2, drawstyle="steps-post")

a = ra[13]
style(a, xr, (27.299, 27.354), [27.3, 27.31, 27.32, 27.33, 27.34, 27.35],
      ["27.3", "27.31", "27.32", "27.33", "27.34", "27.35"], "Kicker\nHeight\n[mm]")
a.plot(span_r, kick_h_r, color=DKGREEN, lw=1.2)

a = ra[14]
style(a, xr, (-0.0002, 0.003), [0, 0.001, 0.002, 0.003], ["0", "0.001", "0.002", "0.003"], "Kicker\nJump")
a.plot(kj_r_t, kj_r_v, color=DKGREEN, lw=1.2, drawstyle="steps-post")

a = ra[15]
style(a, xr, (0.36265, 0.37377), [0.365, 0.37], ["0.365", "0.37"], "V.Pos.\n[mm]")
a.plot(vpos_r_t, vpos_r_v, color=VRED, lw=1.2)

a = ra[16]
style(a, xr, (-0.0274, -0.0204), [-0.026, -0.024, -0.022], ["-0.026", "-0.024", "-0.022"], "V.Ang.\n[mrad]")
a.plot(vang_r_t, vang_r_v, color=VRED, lw=1.2)

a = ra[17]
style(a, xr, (96.9, 97.11), [96.95, 97.0, 97.05], ["96.95", "97", "97.05"], "Inj.\nPhase\n[deg]")
a.plot(span_r, phase_r, color=MAG, lw=1.2)
bottom_labels(a, right_hours, right_xlabels)

for a in ra[8:]:
    a.spines["right"].set_linestyle((0, (2, 2)))

# frame of the two screenshots
fig.add_artist(Rectangle((801 / W, 0), 4 / W, 1, transform=fig.transFigure, color="#e4e4e4", zorder=0))
fig.add_artist(Line2D([0, 1], [1 - 1 / H, 1 - 1 / H], transform=fig.transFigure, color="#a0a0a0", lw=1.5))
fig.add_artist(Line2D([1 / W, 1 / W], [0, 1], transform=fig.transFigure, color="#a0a0a0", lw=1.5))

fig.savefig("out.png", dpi=100)
